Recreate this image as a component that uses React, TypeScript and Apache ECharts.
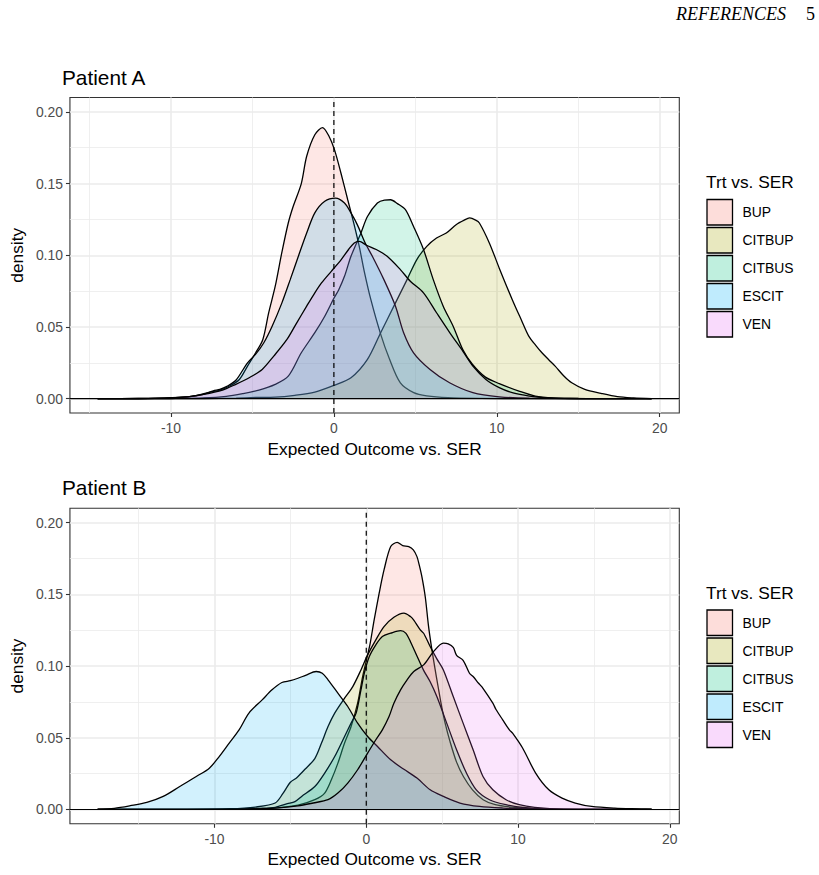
import React, { useEffect, useRef } from "react";
import * as echarts from "echarts";

type Pt = [number, number];

// Treatments compared against SER, in drawing order
const TREATMENTS = ["BUP", "CITBUP", "CITBUS", "ESCIT", "VEN"];
const FILLS = ["#F8766D", "#A3A500", "#00BF7D", "#00B0F6", "#E76BF3"];
const FILL_ALPHA = 0.25;

const PANEL_TITLES = ["Patient A", "Patient B"];
const LEGEND_TITLE = "Trt vs. SER";
const X_NAME = "Expected Outcome vs. SER";
const Y_NAME = "density";

const X_TICKS = [-10, 0, 10, 20];
const X_MINOR = [-15, -5, 5, 15];
const Y_TICKS = [0, 0.05, 0.1, 0.15, 0.2];
const Y_MINOR = [0.025, 0.075, 0.125, 0.175];
const Y_LIMITS: Pt = [0, 0.2];
const REF_X = 0;
const REF_Y = 0;

// Range over which each panel's densities were evaluated
const A_RANGE: Pt = [-14.5, 19.5];
const B_RANGE: Pt = [-17.7, 18.8];

// Patient A densities: [outcome, density]
const A_BUP: Pt[] = [
  [-14.5, 0], [-12, 0.0001], [-10, 0.0005], [-9, 0.0012], [-8.4, 0.0023], [-7.6, 0.0045],
  [-7.0, 0.006], [-6.4, 0.0088], [-5.8, 0.0134], [-5.3, 0.0227], [-4.8, 0.032], [-4.36, 0.0413],
  [-4.0, 0.06], [-3.6, 0.0784], [-3.2, 0.1016], [-2.8, 0.1225], [-2.5, 0.134], [-2.0, 0.15],
  [-1.67, 0.169], [-1.17, 0.184], [-0.7, 0.189], [-0.3, 0.183], [0.04, 0.1735], [0.44, 0.157],
  [0.85, 0.1387], [1.25, 0.121], [1.56, 0.106], [1.86, 0.089], [2.27, 0.069], [2.87, 0.045],
  [3.4, 0.028], [4.08, 0.011], [4.9, 0.0042], [5.7, 0.002], [7, 0.0007], [9, 0.0002],
  [12, 0.00005], [19.5, 0],
];
const A_CITBUP: Pt[] = [
  [-14.5, 0], [-10, 0.00005], [-8, 0.0001], [-6, 0.0004], [-4.8, 0.0008], [-3.6, 0.001],
  [-2.4, 0.0023], [-1.17, 0.0046], [0, 0.0093], [1.05, 0.0146], [2.06, 0.0274], [2.87, 0.046],
  [3.68, 0.0645], [4.49, 0.083], [5.09, 0.097], [5.7, 0.1062], [6.3, 0.112], [6.9, 0.1155],
  [7.5, 0.1213], [8.0, 0.1245], [8.33, 0.126], [8.7, 0.1245], [8.93, 0.1225], [9.54, 0.1086],
  [10.15, 0.091], [10.95, 0.069], [11.5, 0.055], [11.96, 0.0436], [12.4, 0.037], [12.77, 0.032],
  [13.2, 0.027], [13.58, 0.0227], [14.1, 0.016], [14.6, 0.0111], [15.4, 0.0065], [16.4, 0.0037],
  [17.4, 0.0014], [18.4, 0.0005], [19.5, 0],
];
const A_CITBUS: Pt[] = [
  [-14.5, 0], [-12, 0], [-10, 0.0001], [-8, 0.0005], [-6.6, 0.0016], [-5.6, 0.0035],
  [-4.6, 0.006], [-3.6, 0.01], [-2.8, 0.0157], [-2.0, 0.032], [-1.17, 0.046], [-0.56, 0.0575],
  [0, 0.07], [0.3, 0.076], [0.65, 0.0853], [1.05, 0.0993], [1.66, 0.1155], [2.06, 0.127],
  [2.67, 0.1364], [3.1, 0.1385], [3.48, 0.1387], [3.9, 0.136], [4.39, 0.1318], [4.89, 0.12],
  [5.5, 0.104], [6.1, 0.083], [6.71, 0.0645], [7.32, 0.0505], [7.92, 0.034], [8.5, 0.024],
  [9.3, 0.015], [10.15, 0.0105], [11.36, 0.0053], [12.36, 0.0018], [13.5, 0.0005], [15, 0.0001],
  [19.5, 0],
];
const A_ESCIT: Pt[] = [
  [-14.5, 0], [-12, 0.0001], [-10, 0.0005], [-9, 0.0012], [-8, 0.003], [-7.4, 0.0055],
  [-7, 0.0065], [-6.5, 0.009], [-6, 0.013], [-5.3, 0.025], [-4.8, 0.031], [-4.3, 0.039],
  [-3.79, 0.0505], [-3.19, 0.0668], [-2.68, 0.083], [-2.18, 0.0993], [-1.67, 0.1155],
  [-1.17, 0.1295], [-0.56, 0.1376], [0.1, 0.1398], [0.65, 0.1364], [1.05, 0.1295], [1.45, 0.121],
  [1.9, 0.109], [2.36, 0.0993], [3.07, 0.083], [3.78, 0.0645], [4.28, 0.046], [4.89, 0.032],
  [5.9, 0.0204], [7.1, 0.0111], [8.53, 0.0042], [10.15, 0.0013], [12, 0.0003], [19.5, 0],
];
const A_VEN: Pt[] = [
  [-14.5, 0], [-13, 0], [-11, 0.0002], [-9.25, 0.001], [-8.0, 0.003], [-6.83, 0.006],
  [-6.02, 0.01], [-5.2, 0.0146], [-4.4, 0.0204], [-3.69, 0.0297], [-2.88, 0.0413],
  [-2.28, 0.0529], [-1.67, 0.0645], [-1.17, 0.0738], [-0.76, 0.0807], [-0.16, 0.0888],
  [0.45, 0.097], [0.9, 0.104], [1.25, 0.1086], [1.56, 0.1097], [2.0, 0.107], [2.6, 0.104],
  [3.27, 0.0993], [4.08, 0.09], [4.69, 0.0819], [5.5, 0.0738], [6.3, 0.0599], [7.12, 0.0459],
  [7.92, 0.033], [8.53, 0.0227], [9.33, 0.0134], [10.15, 0.0077], [11, 0.004], [12, 0.0018],
  [13, 0.0006], [14.5, 0.0001], [16, 0], [19.5, 0],
];

// Patient B densities: [outcome, density]
const B_BUP: Pt[] = [
  [-17.7, 0], [-12, 0], [-8, 0.0002], [-6, 0.001], [-4.5, 0.003], [-3.39, 0.0068],
  [-2.74, 0.0114], [-2.3, 0.0207], [-1.87, 0.0323], [-1.43, 0.0463], [-1.0, 0.0578],
  [-0.57, 0.0741], [-0.24, 0.0927], [0.05, 0.106], [0.26, 0.116], [0.52, 0.1322], [0.85, 0.1508],
  [1.17, 0.167], [1.61, 0.1833], [2.04, 0.1863], [2.4, 0.184], [2.8, 0.1833], [3.1, 0.181],
  [3.34, 0.1763], [3.5, 0.17], [3.67, 0.162], [3.89, 0.148], [4.1, 0.128], [4.3, 0.113],
  [4.5, 0.1], [4.76, 0.084], [5.0, 0.07], [5.2, 0.06], [5.5, 0.048], [5.95, 0.033], [6.4, 0.023],
  [7.0, 0.0137], [7.7, 0.0068], [8.5, 0.0033], [9.6, 0.0016], [11, 0.0005], [13, 0.0001],
  [18.8, 0],
];
const B_CITBUP: Pt[] = [
  [-17.7, 0], [-12, 0.0001], [-9, 0.0005], [-7.3, 0.0017], [-6, 0.0045], [-5.5, 0.011],
  [-5, 0.019], [-4.6, 0.022], [-4.04, 0.028], [-3.39, 0.0355], [-2.95, 0.0463], [-2.52, 0.0578],
  [-2.08, 0.0672], [-1.43, 0.0776], [-0.89, 0.0857], [-0.35, 0.0973], [0.09, 0.1078],
  [0.63, 0.1183], [1.17, 0.1275], [1.82, 0.134], [2.48, 0.1369], [2.91, 0.1345], [3.13, 0.132],
  [3.56, 0.1252], [3.78, 0.1229], [4.21, 0.1136], [4.65, 0.105], [5.08, 0.0973], [5.73, 0.0787],
  [6.38, 0.0602], [7.04, 0.0416], [7.69, 0.023], [8.34, 0.0137], [9.21, 0.0068], [10.08, 0.0033],
  [11.1, 0.0015], [13, 0.0003], [18.8, 0],
];
const B_CITBUS: Pt[] = [
  [-17.7, 0], [-12, 0], [-9, 0.0002], [-7, 0.0008], [-6, 0.0015], [-5.2, 0.004], [-4.7, 0.0055],
  [-4.26, 0.0091], [-3.39, 0.016], [-2.74, 0.0254], [-2.08, 0.0369], [-1.43, 0.0509],
  [-1.0, 0.0602], [-0.67, 0.0672], [-0.35, 0.0834], [-0.13, 0.095], [0.2, 0.1066],
  [0.63, 0.1148], [1.06, 0.1206], [1.61, 0.1229], [2.26, 0.1247], [2.6, 0.123], [2.91, 0.117],
  [3.34, 0.107], [3.78, 0.097], [4.21, 0.089], [4.65, 0.0787], [5.3, 0.0602], [5.95, 0.0416],
  [6.6, 0.0254], [7.25, 0.0137], [8.12, 0.0068], [9.2, 0.0033], [10.5, 0.0012], [12, 0.0003],
  [18.8, 0],
];
const B_ESCIT: Pt[] = [
  [-17.7, 0], [-16.6, 0.0008], [-15.55, 0.0026], [-14.46, 0.0049], [-13.38, 0.0091],
  [-12.29, 0.016], [-11.2, 0.023], [-10.34, 0.0288], [-9.69, 0.0369], [-9.03, 0.0463],
  [-8.38, 0.0555], [-7.73, 0.0672], [-6.86, 0.0764], [-6.21, 0.0834], [-5.56, 0.0885],
  [-5.0, 0.0898], [-4.5, 0.0915], [-4.0, 0.0935], [-3.3, 0.0962], [-2.9, 0.095], [-2.52, 0.0904],
  [-1.87, 0.0811], [-1.22, 0.0718], [-0.57, 0.0602], [0.09, 0.0509], [0.74, 0.0439],
  [1.61, 0.0346], [2.48, 0.028], [3.34, 0.0219], [4.21, 0.0137], [5.08, 0.0091], [6.17, 0.0045],
  [7.47, 0.0021], [9.0, 0.001], [11, 0.0003], [14, 0.0001], [18.8, 0],
];
const B_VEN: Pt[] = [
  [-17.7, 0], [-12, 0], [-10, 0.0001], [-8, 0.0003], [-6, 0.001], [-4.5, 0.0025], [-3.5, 0.0045],
  [-2.52, 0.0068], [-1.87, 0.0114], [-1.22, 0.0184], [-0.57, 0.0277], [0.09, 0.0393],
  [0.63, 0.0486], [1.06, 0.0555], [1.5, 0.0648], [1.82, 0.0741], [2.26, 0.0834], [2.69, 0.0904],
  [3.13, 0.0962], [3.78, 0.1008], [4.43, 0.1101], [5.08, 0.116], [5.4, 0.1155], [5.73, 0.113],
  [5.95, 0.1075], [6.38, 0.104], [6.8, 0.095], [7.04, 0.0927], [7.4, 0.088], [7.69, 0.0845],
  [8.34, 0.0741], [8.56, 0.0695], [8.99, 0.0625], [9.43, 0.0555], [9.64, 0.0532], [10.29, 0.043],
  [11.16, 0.0254], [12.03, 0.0137], [12.9, 0.0079], [13.77, 0.0045], [14.85, 0.0021],
  [16.37, 0.0009], [18.1, 0.0003], [18.8, 0],
];

const PANEL_A = [A_BUP, A_CITBUP, A_CITBUS, A_ESCIT, A_VEN];
const PANEL_B = [B_BUP, B_CITBUP, B_CITBUS, B_ESCIT, B_VEN];

const SANS = "'Liberation Sans', Arial, Helvetica, sans-serif";
const SERIF = "'Liberation Serif', 'Times New Roman', serif";

// Panel frames (pixels)
const PANELS = [
  { left: 62, top: 97.5, width: 617.3, height: 315.5, titleY: 77.5, legendTitleY: 182, legendTop: 199.5 },
  { left: 62, top: 508.3, width: 617.3, height: 315.5, titleY: 487.5, legendTitleY: 593, legendTop: 610 },
];

function rgba(hex: string, a: number) {
  const n = parseInt(hex.slice(1), 16);
  return `rgba(${(n >> 16) & 255},${(n >> 8) & 255},${n & 255},${a})`;
}

function expand(range: Pt, mult = 0.05): Pt {
  const span = range[1] - range[0];
  return [range[0] - mult * span, range[1] + mult * span];
}

export default function App() {
  const ref = useRef<HTMLDivElement>(null);

  useEffect(() => {
    document.body.style.margin = "0";
    const el = ref.current;
    if (!el) return;
    const chart = echarts.init(el, undefined, { renderer: "svg" });

    const yExt = expand(Y_LIMITS);
    const xExts = [expand(A_RANGE), expand(B_RANGE)];

    const grids: any[] = [];
    const xAxes: any[] = [];
    const yAxes: any[] = [];
    const series: any[] = [];
    const graphics: any[] = [];

    graphics.push(
      {
        type: "text", x: 676, y: 14,
        style: { text: "REFERENCES", fontFamily: SERIF, fontStyle: "italic", fontSize: 18, fill: "#000", verticalAlign: "middle" },
      },
      {
        type: "text", x: 806, y: 14,
        style: { text: "5", fontFamily: SERIF, fontSize: 18, fill: "#000", verticalAlign: "middle" },
      }
    );

    [PANEL_A, PANEL_B].forEach((panel, p) => {
      const g = PANELS[p];
      const xExt = xExts[p];
      grids.push({
        left: g.left, top: g.top, width: g.width, height: g.height,
        show: true, borderColor: "#333333", borderWidth: 1.1, backgroundColor: "transparent",
      });

      // major axes
      xAxes.push({
        type: "value", gridIndex: p, min: xExt[0], max: xExt[1], position: "bottom",
        axisLine: { show: false, onZero: false },
        axisTick: { show: true, length: 4, lineStyle: { color: "#333333", width: 1.1 }, customValues: X_TICKS },
        axisLabel: { customValues: X_TICKS, color: "#4d4d4d", fontSize: 13.9, fontFamily: SANS, margin: 8, formatter: (v: number) => String(v) },
        splitLine: { show: true, lineStyle: { color: "#ebebeb", width: 1.6 } },
        name: X_NAME, nameLocation: "middle", nameGap: 27,
        nameTextStyle: { color: "#000", fontSize: 17.3, fontFamily: SANS },
      });
      yAxes.push({
        type: "value", gridIndex: p, min: yExt[0], max: yExt[1], position: "left",
        axisLine: { show: false, onZero: false },
        axisTick: { show: true, length: 4, lineStyle: { color: "#333333", width: 1.1 }, customValues: Y_TICKS },
        axisLabel: { customValues: Y_TICKS, color: "#4d4d4d", fontSize: 13.9, fontFamily: SANS, margin: 7, formatter: (v: number) => v.toFixed(2) },
        splitLine: { show: true, lineStyle: { color: "#ebebeb", width: 1.6 } },
        name: Y_NAME, nameLocation: "middle", nameGap: 36,
        nameTextStyle: { color: "#000", fontSize: 17.3, fontFamily: SANS },
      });
      // minor gridlines
      xAxes.push({
        type: "value", gridIndex: p, min: xExt[0], max: xExt[1], position: "top",
        axisLine: { show: false, onZero: false },
        axisTick: { show: false, customValues: X_MINOR },
        axisLabel: { show: false, customValues: X_MINOR },
        splitLine: { show: true, lineStyle: { color: "#ebebeb", width: 0.8 } },
      });
      yAxes.push({
        type: "value", gridIndex: p, min: yExt[0], max: yExt[1], position: "right",
        axisLine: { show: false, onZero: false },
        axisTick: { show: false, customValues: Y_MINOR },
        axisLabel: { show: false, customValues: Y_MINOR },
        splitLine: { show: true, lineStyle: { color: "#ebebeb", width: 0.8 } },
      });

      const axisIndex = p * 2;
      panel.forEach((data, i) => {
        series.push({
          type: "line", name: TREATMENTS[i], xAxisIndex: axisIndex, yAxisIndex: axisIndex,
          data, showSymbol: false, symbol: "none", smooth: 0.3,
          z: 2 + i, silent: true,
          lineStyle: { color: "#000", width: 1.3 },
          itemStyle: { color: rgba(FILLS[i], FILL_ALPHA) },
          areaStyle: { color: rgba(FILLS[i], FILL_ALPHA), origin: "auto" },
          emphasis: { disabled: true },
        });
      });

      // reference lines
      series.push({
        type: "line", xAxisIndex: axisIndex, yAxisIndex: axisIndex,
        data: [[REF_X, yExt[0]], [REF_X, yExt[1]]],
        symbol: "none", z: 10, silent: true,
        lineStyle: { color: "#000", width: 1.2, type: [5, 4] },
        emphasis: { disabled: true },
      });
      series.push({
        type: "line", xAxisIndex: axisIndex, yAxisIndex: axisIndex,
        data: [[xExt[0], REF_Y], [xExt[1], REF_Y]],
        symbol: "none", z: 10, silent: true,
        lineStyle: { color: "#000", width: 1.1 },
        emphasis: { disabled: true },
      });

      // panel title
      graphics.push({
        type: "text", x: g.left, y: g.titleY,
        style: { text: PANEL_TITLES[p], fontFamily: SANS, fontSize: 20.8, fill: "#000", verticalAlign: "middle" },
      });

      // legend
      graphics.push({
        type: "text", x: 706, y: g.legendTitleY,
        style: { text: LEGEND_TITLE, fontFamily: SANS, fontSize: 17.3, fill: "#000", verticalAlign: "middle" },
      });
      TREATMENTS.forEach((name, i) => {
        const top = g.legendTop + i * 28;
        graphics.push({
          type: "rect",
          shape: { x: 707, y: top, width: 25.5, height: 25.5 },
          style: { fill: rgba(FILLS[i], FILL_ALPHA), stroke: "#000", lineWidth: 1.3 },
        });
        graphics.push({
          type: "text", x: 742.5, y: top + 12.75,
          style: { text: name, fontFamily: SANS, fontSize: 13.9, fill: "#000", verticalAlign: "middle" },
        });
      });
    });

    chart.setOption({
      animation: false,
      backgroundColor: "#ffffff",
      grid: grids,
      xAxis: xAxes,
      yAxis: yAxes,
      series,
      graphic: graphics,
    });

    return () => chart.dispose();
  }, []);

  return (
    <div
      ref={ref}
      style={{ position: "absolute", left: 0, top: 0, width: 819, height: 875, background: "#fff" }}
    />
  );
}
